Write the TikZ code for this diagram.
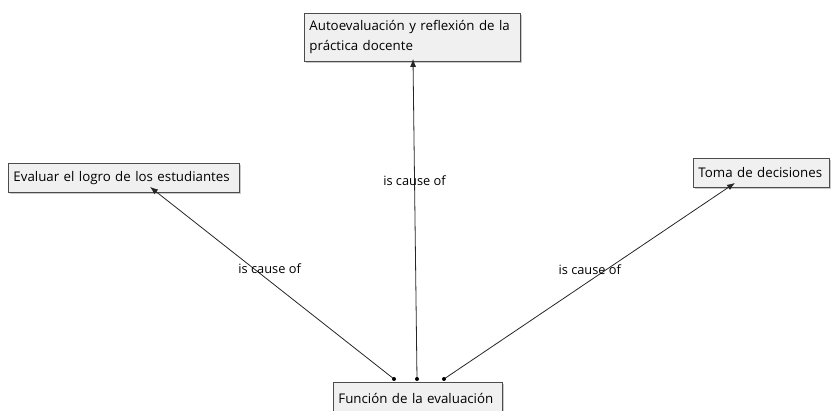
\documentclass[tikz,border=0pt]{standalone}
\usepackage{fontspec}
\setmainfont{Open Sans}
\usetikzlibrary{arrows.meta,shadows}

\tikzset{
  concept/.style={draw=black!70, line width=0.9pt, fill=black!6, anchor=north west,
    align=left, inner xsep=5pt, inner ysep=4pt, font=\fontsize{13.3}{20}\selectfont,
    drop shadow={shadow xshift=2pt, shadow yshift=-2pt, fill=black!35, opacity=0.6}},
  link/.style={draw=black!85, line width=0.8pt, -{Latex[length=8pt,width=6pt]}},
  linklabel/.style={font=\fontsize{12.8}{14}\selectfont, inner sep=1pt},
  startdot/.style={circle, fill=black, inner sep=0pt, minimum size=4pt}
}

\begin{document}
\begin{tikzpicture}[x=1pt,y=-1pt]
  \useasboundingbox (0,0) rectangle (832,410);
  \clip (0,0) rectangle (832,410);

  % concepts
  \node[concept, text width=206pt, minimum height=48pt] (auto) at (304,13)
    {Autoevaluación y reflexión de la\\práctica docente};
  \node[concept, text width=221pt, minimum height=29pt] (logro) at (8,163)
    {Evaluar el logro de los estudiantes};
  \node[concept, text width=126pt, minimum height=29pt] (toma) at (693,158)
    {Toma de decisiones};
  \node[concept, text width=159pt, minimum height=32pt] (funcion) at (333,382)
    {Función de la evaluación};

  % start and end points of the links
  \coordinate (s1) at ([xshift=61pt,yshift=3pt]funcion.north west);
  \coordinate (s2) at ([xshift=84pt,yshift=3pt]funcion.north west);
  \coordinate (s3) at ([xshift=111pt,yshift=3pt]funcion.north west);
  \coordinate (e1) at ([xshift=142pt,yshift=6pt]logro.south west);
  \coordinate (e2) at ([xshift=109pt,yshift=3pt]auto.south west);
  \coordinate (e3) at ([xshift=42pt,yshift=5pt]toma.south west);

  \draw[link] (s1) -- node[linklabel, pos=0.575, xshift=16pt] {is cause of} (e1);
  \draw[link] (s2) -- node[linklabel, pos=0.62] {is cause of} (e2);
  \draw[link] (s3) -- node[linklabel, pos=0.556, xshift=-16pt] {is cause of} (e3);

  \node[startdot] at (s1) {};
  \node[startdot] at (s2) {};
  \node[startdot] at (s3) {};
\end{tikzpicture}
\end{document}
